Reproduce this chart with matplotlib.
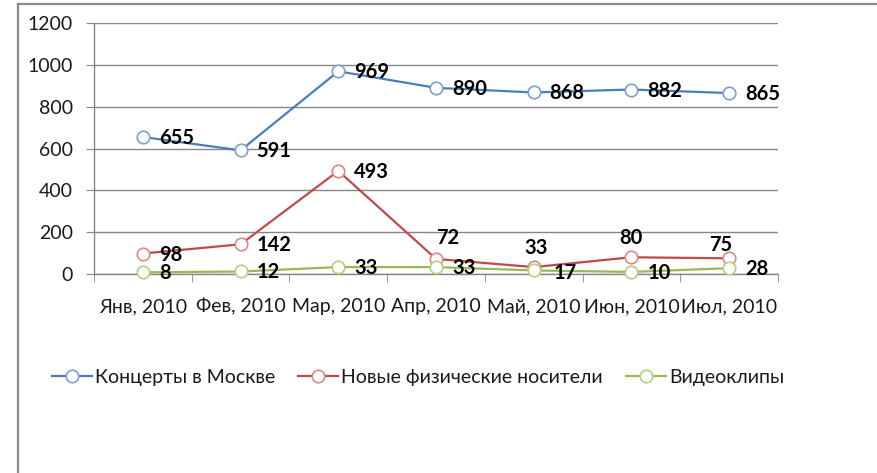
import matplotlib
matplotlib.use("Agg")
import matplotlib.pyplot as plt
from matplotlib.lines import Line2D
from matplotlib.ticker import FixedLocator

plt.rcParams['font.family'] = ['Lato', 'DejaVu Sans']

categories = ["Янв, 2010", "Фев, 2010", "Мар, 2010", "Апр, 2010", "Май, 2010", "Июн, 2010", "Июл, 2010"]
concerts = [655, 591, 969, 890, 868, 882, 865]
media = [98, 142, 493, 72, 33, 80, 75]
clips = [8, 12, 33, 33, 17, 10, 28]
series_names = ["Концерты в Москве", "Новые физические носители", "Видеоклипы"]
y_ticks = [0, 200, 400, 600, 800, 1000, 1200]

W, H, DPI = 878, 473, 100
fig = plt.figure(figsize=(W / DPI, H / DPI), dpi=DPI)
fig.patch.set_facecolor('white')

ax = fig.add_axes([94 / W, 1 - 274 / H, (778 - 94) / W, (274 - 23) / H])

px = 72 / DPI  # px -> points

styles = [
    dict(color="#4A7EBB", mec="#7E9FCF"),
    dict(color="#BE4B48", mec="#D98987"),
    dict(color="#98B954", mec="#B3CF80"),
]
data = [concerts, media, clips]
x = list(range(len(categories)))

# label offsets in px (dx, dy, ha)
right = (16, -1, 'left')
offsets = [
    [right] * 7,
    [right, right, right, (12, 21, 'center'), (2, 19, 'center'), (-1, 19, 'center'), (-8, 13, 'center')],
    [right, right, right, right, (20, -3, 'left'), right, right],
]

handles = []
for vals, st, name, offs in zip(data, styles, series_names, offsets):
    ax.plot(x, vals, color=st['color'], lw=1.6, marker='o', ms=9,
            mfc='white', mec=st['mec'], mew=1.2, zorder=3, clip_on=False)
    handles.append(Line2D([0], [0], color=st['color'], lw=1.6, marker='o', ms=9,
                          mfc='white', mec=st['mec'], mew=1.2))
    for xi, v, (dx, dy, ha) in zip(x, vals, offs):
        ax.annotate(str(v), (xi, v), xytext=(dx * px, dy * px), textcoords='offset points',
                    ha=ha, va='center', fontsize=14.5, fontweight='bold', color='black', zorder=4)

ax.set_xlim(-0.5, len(categories) - 0.5)
ax.set_ylim(0, 1200)
ax.set_yticks(y_ticks)
ax.set_yticklabels([str(t) for t in y_ticks])
ax.set_xticks(x)
ax.set_xticklabels(categories)
ax.xaxis.set_minor_locator(FixedLocator([i - 0.5 for i in range(len(categories) + 1)]))

ax.grid(axis='y', color='#868686', lw=1.0, zorder=0)
ax.set_axisbelow(True)
for s in ['top', 'right']:
    ax.spines[s].set_visible(False)
ax.spines['left'].set_color('#868686')
ax.spines['bottom'].set_color('#868686')
ax.spines['left'].set_linewidth(1.0)
ax.spines['bottom'].set_linewidth(1.0)

ax.tick_params(axis='y', length=6, color='#868686', labelsize=14, pad=9, labelcolor='#1a1a1a')
ax.tick_params(axis='x', which='major', length=0, labelsize=14, pad=17.5, labelcolor='#1a1a1a')
ax.tick_params(axis='x', which='minor', length=6, color='#868686')

leg = fig.legend(handles, series_names, loc='center', bbox_to_anchor=(418 / W, 1 - 377 / H),
                 ncol=3, frameon=False, fontsize=14, handlelength=2.05, handletextpad=0.15,
                 columnspacing=1.2)
for t in leg.get_texts():
    t.set_color('#1a1a1a')

# chart area border (partially visible)
fig.add_artist(Line2D([17.5 / W, 17.5 / W], [0, 1 - 4 / H], transform=fig.transFigure,
                      color='#8a8a8a', lw=1.6))
fig.add_artist(Line2D([17.5 / W, 1.0], [1 - 4 / H, 1 - 4 / H], transform=fig.transFigure,
                      color='#8a8a8a', lw=1.6))

fig.savefig("out.png", dpi=DPI, facecolor='white')
